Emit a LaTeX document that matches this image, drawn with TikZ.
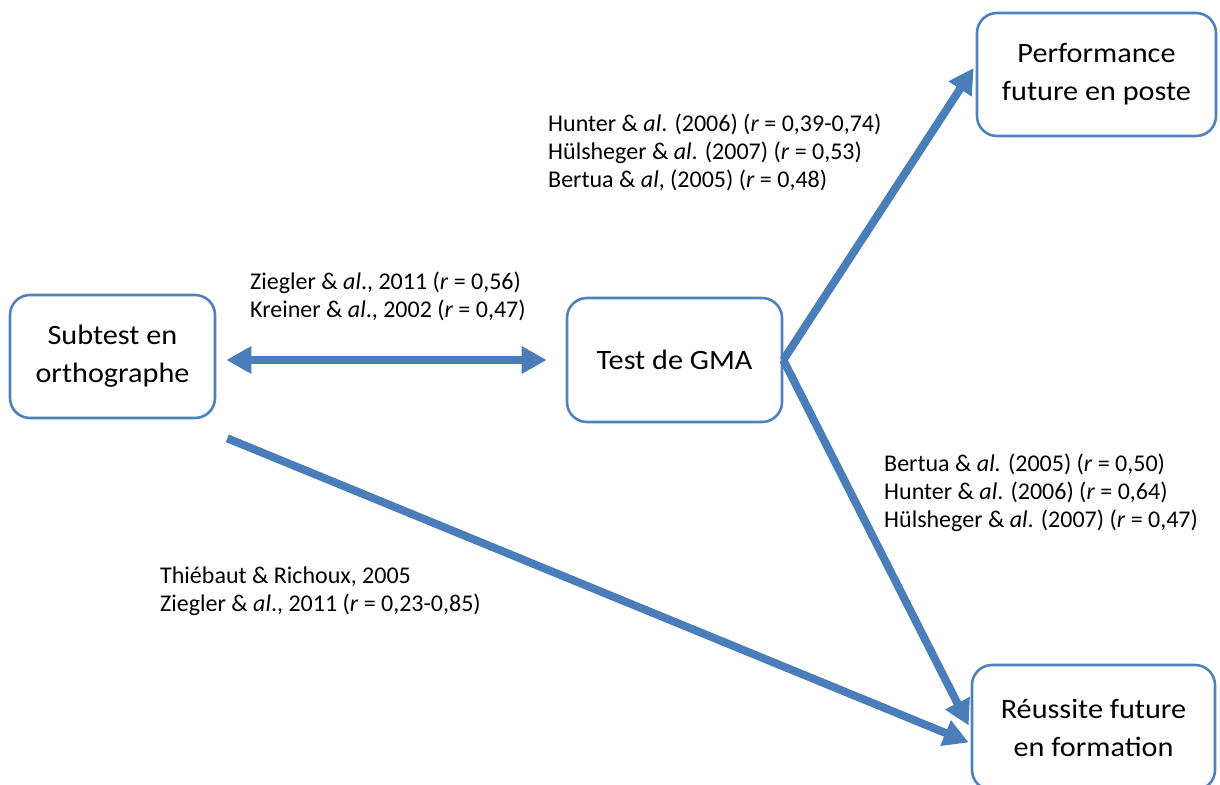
\documentclass[tikz,border=0pt]{standalone}
\usepackage{fontspec}
\setmainfont{Carlito}
\newfontfamily\boxfont[FakeStretch=1.08]{Carlito}
\usetikzlibrary{arrows.meta,calc}
\definecolor{boxblue}{HTML}{4F81BD}
\definecolor{arrblue}{HTML}{4A7EBB}
\tikzset{
  boxnode/.style={draw=boxblue, line width=2.6pt, rounded corners=20pt, fill=white,
    align=center, font=\boxfont\fontsize{28}{38}\selectfont, inner sep=0pt},
  lbl/.style={anchor=west, align=left, inner sep=0pt, font=\fontsize{24}{28}\selectfont},
  arr/.style={draw=arrblue, line width=8pt, -{Triangle[length=25pt,width=26pt]}},
  dblarr/.style={draw=arrblue, line width=8pt, {Triangle[length=25pt,width=26pt]}-{Triangle[length=25pt,width=26pt]}}
}
\begin{document}
\begin{tikzpicture}[x=1pt,y=-1pt]
\useasboundingbox (0,0) rectangle (1220,784);
\node[boxnode, minimum width=205pt, minimum height=123pt] (sub) at (112.5,356.5) {Subtest en\\orthographe};
\node[boxnode, minimum width=215pt, minimum height=124pt] (gma) at (674.5,360) {Test de GMA};
\node[boxnode, minimum width=239pt, minimum height=123pt] (perf) at (1096.5,74.5) {Performance\\future en poste};
\node[boxnode, minimum width=243pt, minimum height=125pt] (reu) at (1093.5,727.5) {Réussite future\\en formation};

\coordinate (d0) at (sub.east |- gma.west);
\coordinate (s0) at ($(sub.south east)+(11,19)$);
\coordinate (r1) at ($(reu.west)+(-2,15)$);
\coordinate (p1) at ($(perf.west)+(-2,-6.5)$);
\coordinate (r0) at ($(reu.west)+(-2,-2)$);

\draw[dblarr, shorten <=10pt, shorten >=19pt] (d0) -- (gma.west);
\draw[arr] (gma.east) -- (p1);
\draw[arr] (gma.east) -- (r0);
\draw[arr] (s0) -- (r1);

\node[lbl] (l1) at (250,296) {Ziegler \& \textit{al}., 2011 (\textit{r} = 0,56)\\Kreiner \& \textit{al}., 2002 (\textit{r} = 0,47)};
\node[lbl] (l2) at (548,152) {Hunter \& \textit{al}. (2006) (\textit{r} = 0,39-0,74)\\Hülsheger \& \textit{al}. (2007) (\textit{r} = 0,53)\\Bertua \& \textit{al}, (2005) (\textit{r} = 0,48)};
\node[lbl] (l3) at (884,493) {Bertua \& \textit{al.} (2005) (\textit{r} = 0,50)\\Hunter \& \textit{al}. (2006) (\textit{r} = 0,64)\\Hülsheger \& \textit{al}. (2007) (\textit{r} = 0,47)};
\node[lbl] (l4) at (160,591) {Thiébaut \& Richoux, 2005\\Ziegler \& \textit{al}., 2011 (\textit{r} = 0,23-0,85)};
\end{tikzpicture}
\end{document}
